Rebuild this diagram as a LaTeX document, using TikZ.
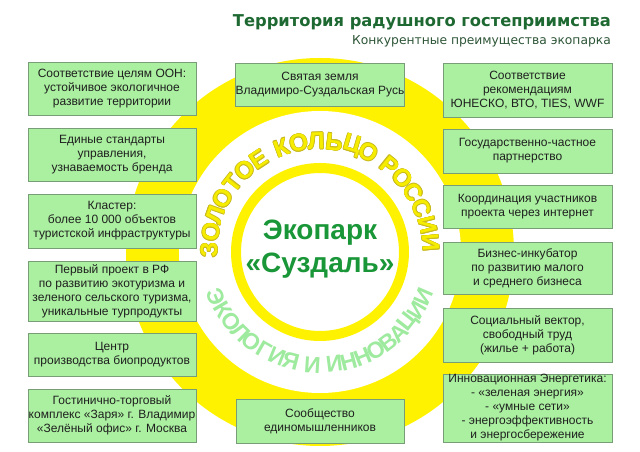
\documentclass[tikz,border=0pt]{standalone}
\usepackage{fontspec}
\setmainfont{Liberation Sans}
\newfontfamily\titlefont{DejaVu Sans}
\usetikzlibrary{calc}

\definecolor{ringyellow}{RGB}{255,242,0}
\definecolor{goldtext}{RGB}{246,236,0}
\definecolor{goldline}{RGB}{200,185,30}
\definecolor{ecogreen}{RGB}{158,234,158}
\definecolor{boxfill}{RGB}{170,240,160}
\definecolor{boxline}{RGB}{120,158,120}
\definecolor{titlegreen}{RGB}{30,105,50}
\definecolor{subgreen}{RGB}{45,85,55}
\definecolor{parkgreen}{RGB}{25,150,55}

\begin{document}
\begin{tikzpicture}[x=1pt,y=1pt,
  infobox/.style={draw=boxline, fill=boxfill, line width=0.9pt, inner sep=0pt,
    align=center, font=\fontsize{12}{14}\selectfont, text=black!88},
  parktext/.style={anchor=base, inner sep=0pt, text=parkgreen,
    font=\bfseries\fontsize{28}{33}\selectfont},
  goldletter/.style={inner sep=0pt, text=goldtext, font=\bfseries\fontsize{24}{24}\selectfont},
  goldshadow/.style={inner sep=0pt, text=goldline, font=\bfseries\fontsize{24}{24}\selectfont},
  ecoletter/.style={inner sep=0pt, text=ecogreen, font=\bfseries\fontsize{23}{23}\selectfont},
]
\useasboundingbox (0,0) rectangle (640,452);
\fill[white] (0,0) rectangle (640,452);
\coordinate (c) at (320,200);
\fill[ringyellow] (c) circle[radius=194];
\fill[white] (c) circle[radius=141];
\draw[ringyellow, line width=10pt] (c) circle[radius=84];

% title
\node[anchor=base east, inner sep=0pt, text=titlegreen,
  font=\titlefont\bfseries\fontsize{16.3}{18}\selectfont] (title) at (611,425)
  {Территория радушного гостеприимства};
\node[anchor=base east, inner sep=0pt, text=subgreen,
  font=\titlefont\fontsize{12.3}{14}\selectfont] (subtitle) at (611,407)
  {Конкурентные преимущества экопарка};

% ring text: ЗОЛОТОЕ КОЛЬЦО РОССИИ (top, clockwise)
\foreach \ch/\p [count=\i] in {З/0,О/1,Л/2,О/3,Т/4,О/5,Е/6,К/7.4,О/8.4,Л/9.4,Ь/10.4,Ц/11.4,О/12.4,Р/13.8,О/14.8,С/15.8,С/16.8,И/17.8,И/18.8}{
  \pgfmathsetmacro\a{179-\p*9.27}
  \foreach \ox/\oy in {0.55/0,-0.55/0,0/0.55,0/-0.55,0.4/0.4,-0.4/0.4,0.4/-0.4,-0.4/-0.4}{
    \node[goldshadow, rotate=\a-90] at ($(c)+(\a:111)+(\ox,\oy)$) {\ch};
  }
  \node[goldletter, rotate=\a-90] (gold\i) at ($(c)+(\a:111)$) {\ch};
}

% ring text: ЭКОЛОГИЯ И ИННОВАЦИИ (bottom, counter-clockwise)
\foreach \ch/\p [count=\i] in {Э/0,К/1,О/2,Л/3,О/4,Г/5,И/6,Я/7,И/8.5,И/10,Н/11,Н/12,О/13,В/14,А/15,Ц/16,И/17,И/18}{
  \pgfmathsetmacro\a{203.2+\p*7.41}
  \node[ecoletter, rotate=\a+90] (eco\i) at ($(c)+(\a:113)$) {\ch};
}

% centre
\node[parktext] (park1) at (320,212) {Экопарк};
\node[parktext] (park2) at (320,179) {«Суздаль»};

% left column
\node[infobox, minimum width=168pt, minimum height=53pt] (l1) at (112,363.5)
  {Соответствие целям ООН:\\устойчивое экологичное\\развитие территории};
\node[infobox, minimum width=168pt, minimum height=53pt] (l2) at (112,297.5)
  {Единые стандарты\\управления,\\узнаваемость бренда};
\node[infobox, minimum width=168pt, minimum height=54pt] (l3) at (112,231)
  {Кластер:\\более 10 000 объектов\\туристской инфраструктуры};
\node[infobox, minimum width=168pt, minimum height=60pt] (l4) at (112,161)
  {Первый проект в РФ\\по развитию экотуризма и\\зеленого сельского туризма,\\уникальные турпродукты};
\node[infobox, minimum width=168pt, minimum height=43pt] (l5) at (112,97.5)
  {Центр\\производства биопродуктов};
\node[infobox, minimum width=168pt, minimum height=53pt] (l6) at (112,36.5)
  {Гостинично-торговый\\комплекс «Заря» г. Владимир\\«Зелёный офис» г. Москва};

% centre column
\node[infobox, minimum width=168pt, minimum height=43pt] (ct) at (320,367.5)
  {Святая земля\\Владимиро-Суздальская Русь};
\node[infobox, minimum width=168pt, minimum height=44pt] (cb) at (320,31)
  {Сообщество\\единомышленников};

% right column
\node[infobox, minimum width=169pt, minimum height=54pt] (r1) at (527.5,362)
  {Соответствие\\рекомендациям\\ЮНЕСКО, ВТО, TIES, WWF};
\node[infobox, minimum width=169pt, minimum height=44pt] (r2) at (527.5,301)
  {Государственно-частное\\партнерство};
\node[infobox, minimum width=169pt, minimum height=43pt] (r3) at (527.5,245.5)
  {Координация участников\\проекта через интернет};
\node[infobox, minimum width=169pt, minimum height=52pt] (r4) at (527.5,184)
  {Бизнес-инкубатор\\по развитию малого\\и среднего бизнеса};
\node[infobox, minimum width=169pt, minimum height=54pt] (r5) at (527.5,117)
  {Социальный вектор,\\свободный труд\\(жилье + работа)};
\node[infobox, minimum width=169pt, minimum height=68pt] (r6) at (527.5,44)
  {Инновационная Энергетика:\\- «зеленая энергия»\\- «умные сети»\\- энергоэффективность\\и энергосбережение};
\end{tikzpicture}
\end{document}
